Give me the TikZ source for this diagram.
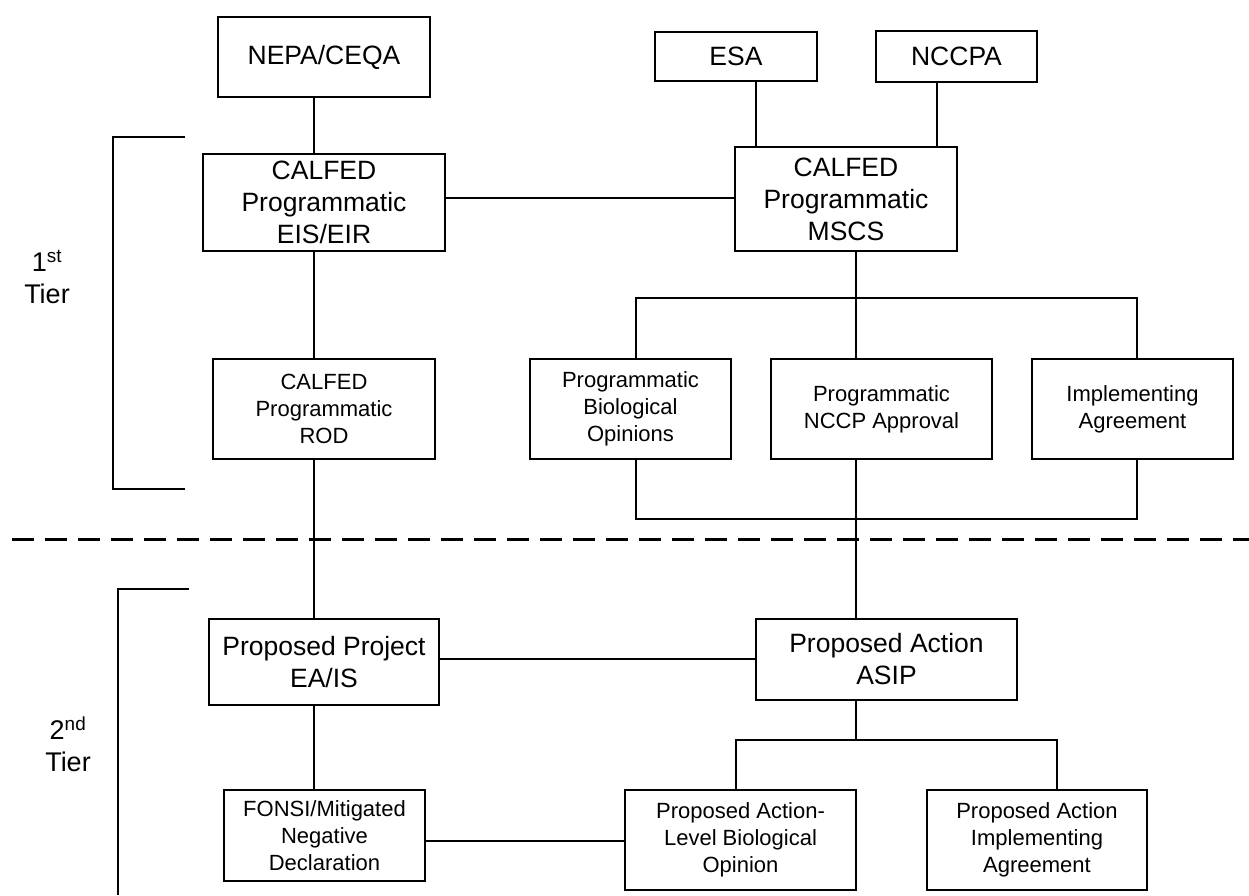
\documentclass[tikz,border=0pt]{standalone}
\usepackage{fontspec}
\setmainfont{Liberation Sans}
\begin{document}
\begin{tikzpicture}[x=1pt,y=-1pt,
  box/.style={draw, line width=2.4pt, align=center, inner sep=0pt},
  big/.style={font=\fontsize{26.5}{32}\selectfont},
  small/.style={font=\fontsize{22}{27}\selectfont},
  conn/.style={line width=1.4pt},
  brk/.style={line width=2.4pt},
  tier/.style={align=center, font=\fontsize{27}{32}\selectfont}]
\useasboundingbox (0,0) rectangle (1249,895);
% boxes
\node[box,big,minimum width=212pt,minimum height=80pt] (nepa) at (324,57) {NEPA/CEQA};
\node[box,big,minimum width=162pt,minimum height=49pt] (esa) at (736,56.5) {ESA};
\node[box,big,minimum width=161pt,minimum height=51pt] (nccpa) at (956.5,56.5) {NCCPA};
\node[box,big,minimum width=242pt,minimum height=97pt] (eis) at (324,202.5) {CALFED\\Programmatic\\EIS/EIR};
\node[box,big,minimum width=222pt,minimum height=104pt] (mscs) at (846,199) {CALFED\\Programmatic\\MSCS};
\node[box,small,minimum width=222pt,minimum height=100pt] (rod) at (324,409) {CALFED\\Programmatic\\ROD};
\node[box,small,minimum width=201pt,minimum height=100pt] (bio) at (630.5,409) {Programmatic\\Biological\\Opinions};
\node[box,small,minimum width=221pt,minimum height=100pt] (nccp) at (881.5,409) {Programmatic\\NCCP Approval};
\node[box,small,minimum width=201pt,minimum height=100pt] (impl) at (1132.5,409) {Implementing\\Agreement};
\node[box,big,minimum width=230pt,minimum height=86pt] (pp) at (324,662) {Proposed Project\\EA/IS};
\node[box,big,minimum width=261pt,minimum height=81pt] (asip) at (886.5,659.5) {Proposed Action\\ASIP};
\node[box,small,minimum width=201pt,minimum height=91pt] (fonsi) at (324.5,835.5) {FONSI/Mitigated\\Negative\\Declaration};
\node[box,small,minimum width=231pt,minimum height=100pt] (pabio) at (740.5,840) {Proposed Action-\\Level Biological\\Opinion};
\node[box,small,minimum width=220pt,minimum height=100pt] (paimpl) at (1037,840) {Proposed Action\\Implementing\\Agreement};
% tier labels
\node[tier] (t1) at (47,277) {1\textsuperscript{st}\\Tier};
\node[tier] (t2) at (68,744) {2\textsuperscript{nd}\\Tier};
% helper coordinates
\coordinate (xL) at (314,0);
\coordinate (xE) at (756,0);
\coordinate (xN) at (937,0);
\coordinate (xM) at (856,0);
\coordinate (xB1) at (636,0);
\coordinate (xB2) at (1137,0);
\coordinate (xS1) at (736,0);
\coordinate (xS2) at (1057,0);
\coordinate (yBus) at (0,298);
\coordinate (yBot) at (0,519);
\coordinate (ySub) at (0,740);
\coordinate (yH1) at (0,198);
\coordinate (yH2) at (0,659);
\coordinate (yH3) at (0,841);
% connectors
\draw[conn] (nepa.south -| xL) -- (eis.north -| xL);
\draw[conn] (eis.south -| xL) -- (rod.north -| xL);
\draw[conn] (rod.south -| xL) -- (pp.north -| xL);
\draw[conn] (pp.south -| xL) -- (fonsi.north -| xL);
\draw[conn] (esa.south -| xE) -- (mscs.north -| xE);
\draw[conn] (nccpa.south -| xN) -- (mscs.north -| xN);
\draw[conn] (eis.east |- yH1) -- (mscs.west |- yH1);
\draw[conn] (mscs.south -| xM) -- (nccp.north -| xM);
\draw[conn] (nccp.south -| xM) -- (asip.north -| xM);
\draw[conn] (bio.north -| xB1) -- (xB1 |- yBus) -- (xB2 |- yBus) -- (impl.north -| xB2);
\draw[conn] (bio.south -| xB1) -- (xB1 |- yBot) -- (xB2 |- yBot) -- (impl.south -| xB2);
\draw[conn] (pp.east |- yH2) -- (asip.west |- yH2);
\draw[conn] (asip.south -| xM) -- (xM |- ySub);
\draw[conn] (pabio.north -| xS1) -- (xS1 |- ySub) -- (xS2 |- ySub) -- (paimpl.north -| xS2);
\draw[conn] (fonsi.east |- yH3) -- (pabio.west |- yH3);
% tier divider
\coordinate (d1) at (12,539);
\coordinate (d2) at (1249,539);
\draw[line width=3pt, dash pattern=on 22pt off 11pt] (d1) -- (d2);
% brackets
\coordinate (b1a) at (185,137);
\coordinate (b1b) at (113,137);
\coordinate (b1c) at (113,489);
\coordinate (b1d) at (185,489);
\draw[brk] (b1a) -- (b1b) -- (b1c) -- (b1d);
\coordinate (b2a) at (189,589);
\coordinate (b2b) at (118,589);
\coordinate (b2c) at (118,895);
\draw[brk] (b2a) -- (b2b) -- (b2c);
\end{tikzpicture}
\end{document}
